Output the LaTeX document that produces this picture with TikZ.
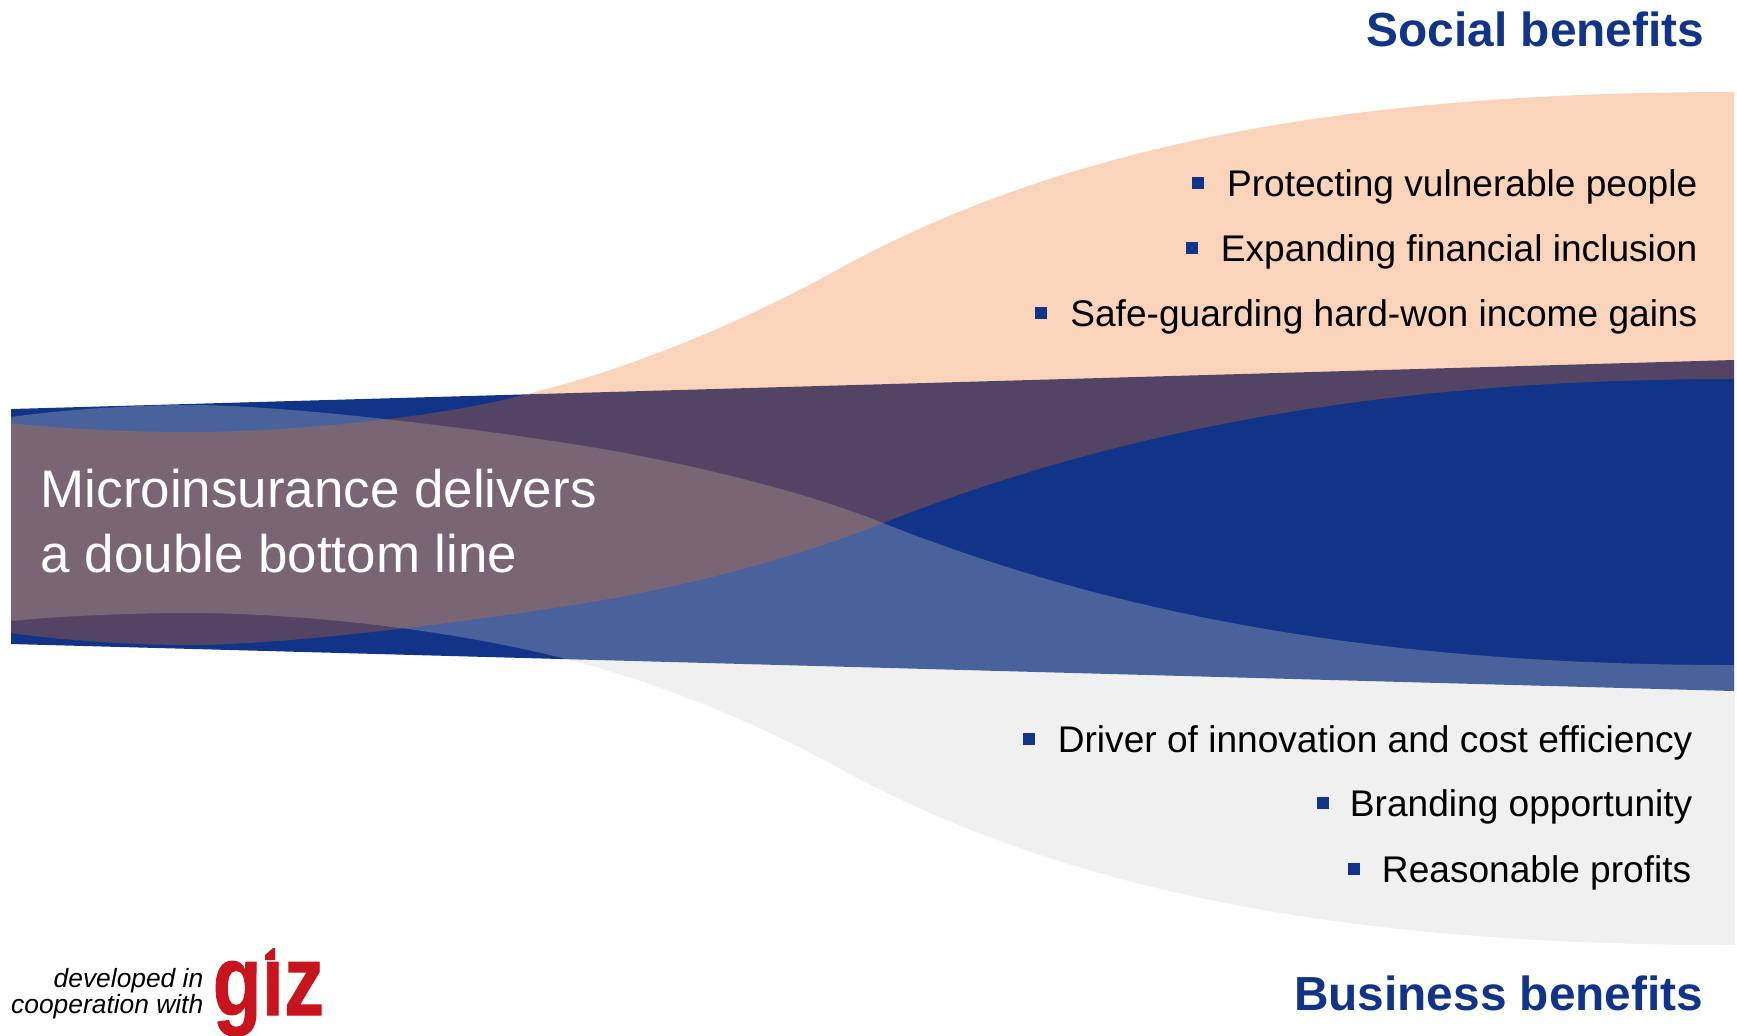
\documentclass[tikz,border=0pt]{standalone}
\usepackage{fontspec}
\setmainfont{Liberation Sans}
\newfontfamily\gizfont[FakeBold=1]{Liberation Sans Bold}
\definecolor{deepblue}{HTML}{123488}
\definecolor{socialorange}{RGB}{235,108,25}
\definecolor{businessgrey}{RGB}{205,205,205}
\definecolor{gizred}{HTML}{C8141C}
\tikzset{
	socialband/.style={fill=socialorange, fill opacity=0.3},
	businessband/.style={fill=businessgrey, fill opacity=0.3},
	benefit/.style={anchor=base east, inner sep=0pt, text=black, font=\fontsize{10.55}{12}\selectfont},
	heading/.style={anchor=base east, inner sep=0pt, text=deepblue, font=\fontsize{13.6}{16}\selectfont\bfseries},
	mainline/.style={anchor=base west, inner sep=0pt, text=white, font=\fontsize{15.05}{18}\selectfont},
	creditline/.style={anchor=base east, inner sep=0pt, text=black, font=\fontsize{7.5}{9}\selectfont\itshape}
}

\begin{document}
\begin{tikzpicture}[x=0.01cm, y=-0.01cm]
			%%%%% START %%%%%
			\useasboundingbox (0, 0) rectangle (1737, 1035);
			
			\fill[deepblue] (11, 409) -- (1734, 360) -- (1734, 691) -- (11, 644) -- cycle;
			
			% grey band
			\fill[businessband] (11, 417) .. controls (60, 410) and (130, 405) .. (190, 405)
				.. controls (300, 405) and (520, 434) .. (620, 452)
				.. controls (720, 471) and (810, 494) .. (883, 523)
				.. controls (1130, 621) and (1400, 665) .. (1735, 665)
				-- (1735, 945)
				.. controls (1400, 945) and (1090, 907) .. (837, 767)
				.. controls (755, 722) and (660, 683) .. (566, 659)
				.. controls (440, 627) and (290, 613) .. (190, 613)
				.. controls (130, 613) and (60, 616) .. (11, 621) -- cycle;
			
			% orange band
			\fill[socialband] (11, 423) .. controls (60, 429) and (130, 432) .. (190, 432)
				.. controls (290, 432) and (440, 418) .. (531, 393)
				.. controls (640, 366) and (750, 318) .. (837, 270)
				.. controls (1090, 130) and (1400, 92) .. (1734, 92)
				-- (1734, 379)
				.. controls (1400, 379) and (1130, 425) .. (883, 523)
				.. controls (810, 552) and (720, 578) .. (620, 597)
				.. controls (520, 615) and (300, 645) .. (190, 645)
				.. controls (130, 645) and (60, 640) .. (11, 633) -- cycle;
			
			\node[mainline] (microline) at (40, 507) {Microinsurance delivers};
			\node[mainline] (doubleline) at (40, 572) {a double bottom line};
			
			\node[heading] (socialhead) at (1705, 46) {Social benefits};
			\node[benefit] (protecting) at (1698, 196) {Protecting vulnerable people};
			\node[benefit] (expanding) at (1698, 261) {Expanding financial inclusion};
			\node[benefit] (safeguarding) at (1698, 326) {Safe-guarding hard-won income gains};
			\fill[deepblue] (1192, 176.5) rectangle (1204, 188.5);
			\fill[deepblue] (1186, 241.5) rectangle (1198, 253.5);
			\fill[deepblue] (1035, 306.5) rectangle (1047, 318.5);
			
			\node[benefit] (driver) at (1693, 752) {Driver of innovation and cost efficiency};
			\node[benefit] (branding) at (1693, 816) {Branding opportunity};
			\node[benefit] (reasonable) at (1692, 882) {Reasonable profits};
			\node[heading] (businesshead) at (1704, 1010) {Business benefits};
			\fill[deepblue] (1023, 732.5) rectangle (1035, 744.5);
			\fill[deepblue] (1317, 796.5) rectangle (1329, 808.5);
			\fill[deepblue] (1348, 862.5) rectangle (1360, 874.5);
			
			\node[creditline] (developed) at (204, 987.5) {developed in};
			\node[creditline] (cooperation) at (204, 1013.5) {cooperation with};
			\node[anchor=base west, inner sep=0pt, text=gizred, font=\fontsize{28.5}{30}\gizfont] (giz) at (212, 1015) {\scalebox{0.8}[1]{giz}};
			
			% dot of the i
			\fill[white] (258, 938) rectangle (284, 960.5);
			\fill[gizred] (265, 960) -- (265, 955) -- (273, 948) -- (275, 948) -- (275, 960) -- cycle;
			
			%%%%% END %%%%%
		\end{tikzpicture}
\end{document}
